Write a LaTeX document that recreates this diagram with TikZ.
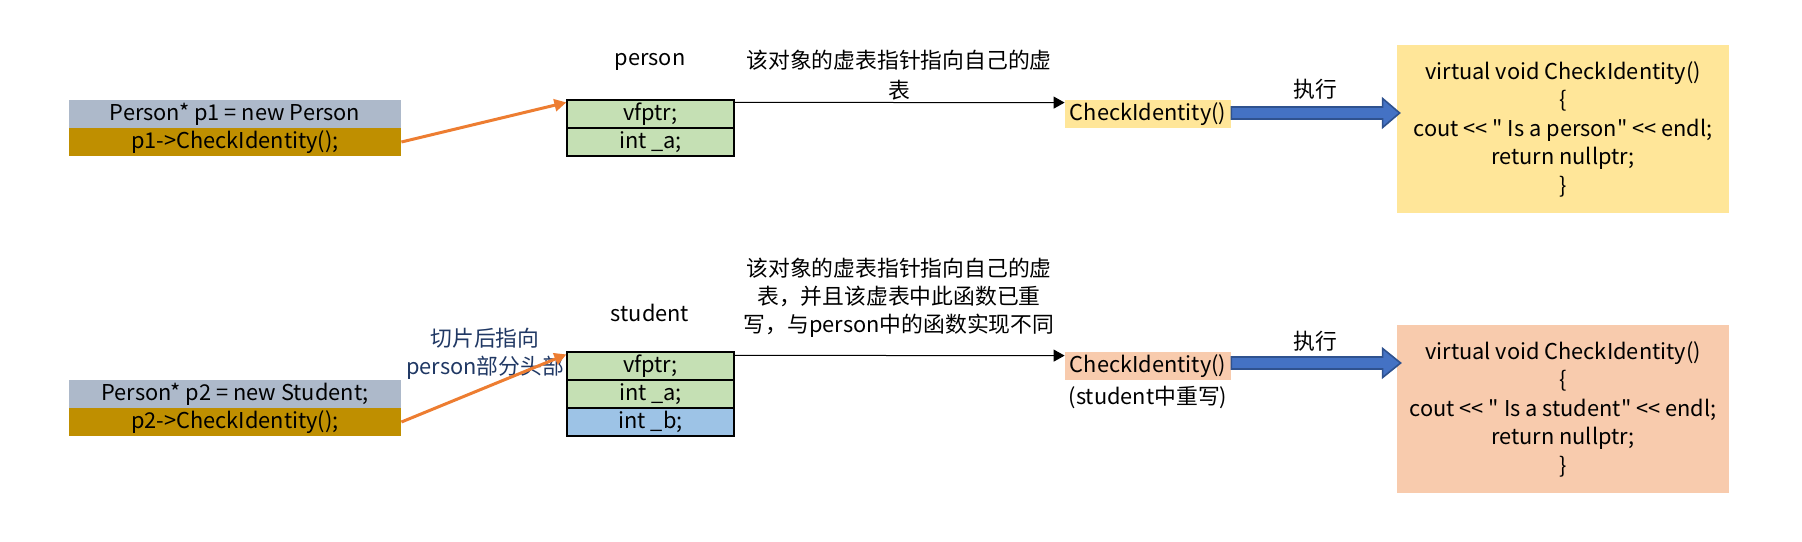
\documentclass[tikz,border=0pt]{standalone}
\usepackage{fontspec}
\setmainfont{Noto Sans CJK SC}[Ligatures=TeXOff]
\usetikzlibrary{arrows.meta,calc}
\definecolor{ptrgray}{HTML}{ADB9CA}
\definecolor{ptrgold}{HTML}{BF8F00}
\definecolor{vtgreen}{HTML}{C5E0B4}
\definecolor{vtblue}{HTML}{9DC3E6}
\definecolor{cyellow}{HTML}{FFE699}
\definecolor{cpeach}{HTML}{F8CBAD}
\definecolor{arrorange}{HTML}{ED7D31}
\definecolor{arrblue}{HTML}{4472C4}
\definecolor{arrblueedge}{HTML}{2F528F}
\definecolor{navy}{HTML}{203864}
\begin{document}
\begin{tikzpicture}[x=0.5pt,y=-0.5pt,
  font=\fontsize{10.9pt}{14.25pt}\selectfont,
  ptrrow/.style={minimum width=166pt, minimum height=14pt, inner sep=0pt},
  vtrow/.style={draw, line width=0.6pt, fill=vtgreen, minimum width=83.5pt, minimum height=14pt, inner sep=0pt},
  cibox/.style={minimum width=83pt, minimum height=14pt, inner sep=0pt},
  codebox/.style={minimum width=166pt, minimum height=84pt, inner sep=0pt, align=center},
  conn/.style={line width=0.5pt, -{Triangle[length=5.5pt,width=6pt]}},
  ptrarrow/.style={arrorange, line width=1.5pt, -{Triangle[length=6pt,width=6pt]}},
  blockarrow/.style={fill=arrblue, draw=arrblueedge, line width=0.8pt}]
\useasboundingbox (0,0) rectangle (1802,541);

% ---- top row (person) ----
\node[ptrrow, fill=ptrgray] (pa1) at (235,114) {Person* p1 = new Person};
\node[ptrrow, fill=ptrgold] (pb1) at (235,142) {p1->CheckIdentity();};
\node (obj1) at (650,62) {person};
\node[vtrow] (vf1) at (650.5,114) {vfptr;};
\node[vtrow] (va1) at (650.5,142) {int \_a;};
\node[align=center, font=\fontsize{10.9pt}{15pt}\selectfont] (note1) at (899,75) {该对象的虚表指针指向自己的虚\\表};
\node[cibox, fill=cyellow] (ci1) at (1148,114) {CheckIdentity()};
\node (run1) at (1315,89) {执行};
\node[codebox, fill=cyellow] (code1) at (1563,129) {virtual void CheckIdentity()\\\{\\cout <{}< " Is a person" <{}< endl;\\return nullptr;\\\}};

\draw[ptrarrow] (pb1.east) -- ([yshift=-1.5pt]vf1.north west);
\draw[conn] ([yshift=-1.5pt]vf1.north east) -- ([yshift=-1.5pt]ci1.north west);
\coordinate (s1) at ([yshift=0.5pt]ci1.east);
\coordinate (e1) at (code1.west |- s1);
\filldraw[blockarrow] ($(s1)+(0,-6)$) -- ($(e1)+(-14,-6)$) -- ($(e1)+(-14,-14.5)$) -- ($(e1)+(3,0)$) -- ($(e1)+(-14,14.5)$) -- ($(e1)+(-14,6)$) -- ($(s1)+(0,6)$) -- cycle;

% ---- bottom row (student) ----
\node[ptrrow, fill=ptrgray] (pa2) at (235,394) {Person* p2 = new Student;};
\node[ptrrow, fill=ptrgold] (pb2) at (235,422) {p2->CheckIdentity();};
\node (obj2) at (650,313) {student};
\node[vtrow] (vf2) at (650.5,366) {vfptr;};
\node[vtrow] (va2) at (650.5,394) {int \_a;};
\node[vtrow, fill=vtblue] (vb2) at (650.5,422) {int \_b;};
\node[align=center, text=navy] (slice) at (485,354) {切片后指向\\person部分头部};
\node[align=center, font=\fontsize{10.9pt}{14pt}\selectfont] (note2) at (899,298) {该对象的虚表指针指向自己的虚\\表，并且该虚表中此函数已重\\写，与person中的函数实现不同};
\node[cibox, fill=cpeach] (ci2) at (1148,366) {CheckIdentity()};
\node (ovr2) at (1148,397) {(student中重写)};
\node (run2) at (1315,341) {执行};
\node[codebox, fill=cpeach] (code2) at (1563,409) {virtual void CheckIdentity()\\\{\\cout <{}< " Is a student" <{}< endl;\\return nullptr;\\\}};

\draw[ptrarrow] (pb2.east) -- ([yshift=-1.5pt]vf2.north west);
\draw[conn] ([yshift=-2pt]vf2.north east) -- ([yshift=-2pt]ci2.north west);
\coordinate (s2) at ([yshift=1.5pt]ci2.east);
\coordinate (e2) at (code2.west |- s2);
\filldraw[blockarrow] ($(s2)+(0,-6)$) -- ($(e2)+(-14,-6)$) -- ($(e2)+(-14,-14.5)$) -- ($(e2)+(4,0)$) -- ($(e2)+(-14,14.5)$) -- ($(e2)+(-14,6)$) -- ($(s2)+(0,6)$) -- cycle;
\end{tikzpicture}
\end{document}
